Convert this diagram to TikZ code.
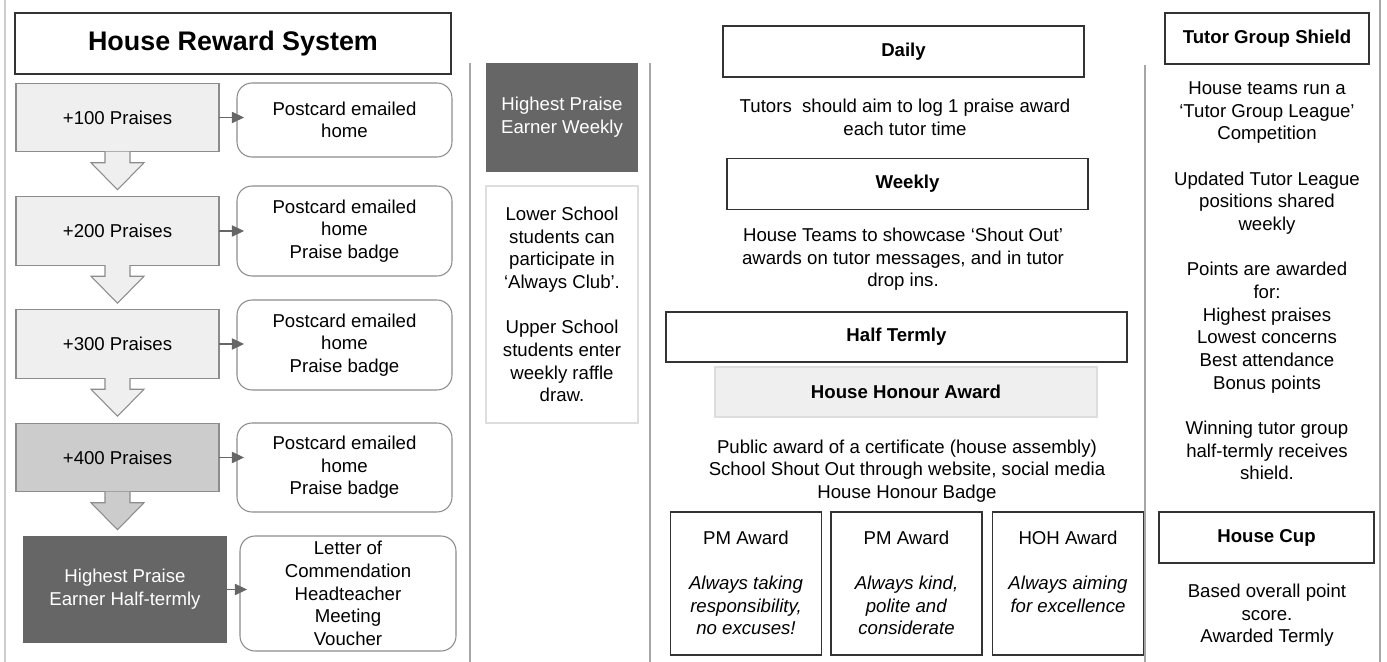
\documentclass[tikz,border=0pt]{standalone}
\usepackage{fontspec}
\setmainfont{Liberation Sans}
\usetikzlibrary{arrows.meta,calc,positioning}

\definecolor{boxgrey}{HTML}{EFEFEF}
\definecolor{midgrey}{HTML}{CCCCCC}
\definecolor{darkgrey}{HTML}{666666}
\definecolor{linegrey}{HTML}{8C8C8C}
\definecolor{rulegrey}{HTML}{A6A6A6}
\definecolor{palegrey}{HTML}{DDDDDD}

\begin{document}
\begin{tikzpicture}[x=0.02cm, y=-0.02cm,
    every node/.style={font=\fontsize{10.6}{12.9}\selectfont, align=center, inner sep=0pt, outer sep=0pt},
    housetitle/.style={draw=black!80, line width=0.8pt, minimum width=8.72cm, minimum height=1.22cm, font=\fontsize{15.3}{18}\selectfont\bfseries},
    praise/.style={draw=linegrey, fill=boxgrey, line width=0.6pt, minimum width=4.06cm, minimum height=1.37cm},
    reward/.style={draw=linegrey, rounded corners=0.3cm, line width=0.6pt, minimum width=4.3cm},
    darkbox/.style={fill=darkgrey, text=white},
    header/.style={draw=black!80, line width=0.7pt, minimum height=1.02cm, font=\fontsize{10.6}{12.9}\selectfont\bfseries},
    awardbox/.style={draw=black!80, line width=0.6pt, minimum width=3.02cm, minimum height=2.86cm},
    link/.style={-{Triangle[length=7pt,width=6.5pt]}, draw=darkgrey, line width=0.6pt, shorten >=-4pt},
    downarrow/.style={draw=linegrey, line width=0.6pt},
    rule/.style={draw=rulegrey, line width=0.6pt}
]
    \useasboundingbox (0,0) rectangle (1387,662);

    % Column rules
    \draw[rule, draw=midgrey] (5,0) -- (5,662);
    \draw[rule] (470,63) -- (470,662);
    \draw[rule] (650,63) -- (650,662);
    \draw[rule] (1145,65) -- (1145,662);
    \draw[rule] (1380,0) -- (1380,662);

    % Left column: praise ladder
    \node[housetitle] (hrs) at (233,43.5) {House Reward System};
    \node[praise] (p100) at (117.5,117.5) {+100 Praises};
    \node[praise] (p200) at (117.5,231) {+200 Praises};
    \node[praise] (p300) at (117.5,344) {+300 Praises};
    \node[praise, fill=midgrey] (p400) at (117.5,457.5) {+400 Praises};
    \node[darkbox, minimum width=4.08cm, minimum height=2.14cm] (hpHalf) at (125,589.5) {Highest Praise\\Earner Half-termly};

    \node[reward, minimum height=1.48cm] (o100) at (344.5,120) {Postcard emailed\\home};
    \node[reward, minimum height=1.8cm] (o200) at (344.5,231) {Postcard emailed\\home\\Praise badge};
    \node[reward, minimum height=1.8cm] (o300) at (344.5,345) {Postcard emailed\\home\\Praise badge};
    \node[reward, minimum height=1.78cm] (o400) at (344.5,467.5) {Postcard emailed\\home\\Praise badge};
    \node[reward, minimum width=4.32cm, minimum height=2.3cm] (oHalf) at (348,593.5) {Letter of\\Commendation\\Headteacher\\Meeting\\Voucher};

    % Block arrows down the ladder
    \filldraw[downarrow, fill=boxgrey] ($(p100.south)+(-12.5,0)$) -- ++(0,11) -- ++(-14,0) -- ($(p100.south)+(0,38)$) -- ++(26.5,-27) -- ++(-14,0) -- ++(0,-11);
    \filldraw[downarrow, fill=boxgrey] ($(p200.south)+(-12.5,0)$) -- ++(0,11) -- ++(-14,0) -- ($(p200.south)+(0,38)$) -- ++(26.5,-27) -- ++(-14,0) -- ++(0,-11);
    \filldraw[downarrow, fill=boxgrey] ($(p300.south)+(-12.5,0)$) -- ++(0,11) -- ++(-14,0) -- ($(p300.south)+(0,38)$) -- ++(26.5,-27) -- ++(-14,0) -- ++(0,-11);
    \filldraw[downarrow, fill=midgrey] ($(p400.south)+(-12.5,0)$) -- ++(0,11) -- ++(-14,0) -- ($(p400.south)+(0,38)$) -- ++(26.5,-27) -- ++(-14,0) -- ++(0,-11);

    % Rewards
    \draw[link] (p100.east) -- (p100.east -| o100.west);
    \draw[link] (p200.east) -- (p200.east -| o200.west);
    \draw[link] (p300.east) -- (p300.east -| o300.west);
    \draw[link] (p400.east) -- (p400.east -| o400.west);
    \draw[link] (hpHalf.east) -- (hpHalf.east -| oHalf.west);

    % Weekly column
    \node[darkbox, minimum width=3.04cm, minimum height=2.18cm] (hpWeek) at (562,117.5) {Highest Praise\\Earner Weekly};
    \node[draw=palegrey, line width=0.6pt, minimum width=3.04cm, minimum height=4.74cm] (club) at (562,304.5) {Lower School\\students can\\participate in\\‘Always Club’.\\[12.9pt]Upper School\\students enter\\weekly raffle\\draw.};

    % Daily, weekly and half termly
    \node[header, minimum width=7.22cm] (daily) at (903.5,51.5) {Daily};
    \node (dailyTxt) at (905,117.5) {Tutors\ \ should aim to log 1 praise award\\each tutor time};
    \node[header, minimum width=7.22cm] (weekly) at (907.5,184) {Weekly};
    \node (weeklyTxt) at (903,259.5) {House Teams to showcase ‘Shout Out’\\awards on tutor messages, and in tutor\\drop ins.};
    \node[header, minimum width=9.22cm, minimum height=1.0cm] (halfT) at (896.5,337) {Half Termly};
    \node[header, draw=palegrey, fill=boxgrey, minimum width=7.64cm, minimum height=1.0cm] (honour) at (906,392) {House Honour Award};
    \node (honourTxt) at (907,471) {Public award of a certificate (house assembly)\\School Shout Out through website, social media\\House Honour Badge};

    \node[awardbox] (pmA) at (746,583.5) {};
    \node[awardbox] (pmB) at (906.5,583.5) {};
    \node[awardbox] (hoh) at (1068,583.5) {};
    \node[below=0.37cm of pmA.north] (pmAtxt) {PM Award\\[12.9pt]\textit{Always taking}\\\textit{responsibility,}\\\textit{no excuses!}};
    \node[below=0.37cm of pmB.north] (pmBtxt) {PM Award\\[12.9pt]\textit{Always kind,}\\\textit{polite and}\\\textit{considerate}};
    \node[below=0.37cm of hoh.north] (hohTxt) {HOH Award\\[12.9pt]\textit{Always aiming}\\\textit{for excellence}};

    % Tutor group shield and house cup
    \node[header, minimum width=4.08cm] (shield) at (1267,38.5) {Tutor Group Shield};
    \node (shieldTxt) at (1267,281) {House teams run a\\‘Tutor Group League’\\Competition\\[12.9pt]Updated Tutor League\\positions shared\\weekly\\[12.9pt]Points are awarded\\for:\\Highest praises\\Lowest concerns\\Best attendance\\Bonus points\\[12.9pt]Winning tutor group\\half-termly receives\\shield.};
    \node[header, minimum width=4.3cm] (cup) at (1266.5,537.5) {House Cup};
    \node (cupTxt) at (1267,615.5) {Based overall point\\score.\\Awarded Termly};
\end{tikzpicture}
\end{document}
